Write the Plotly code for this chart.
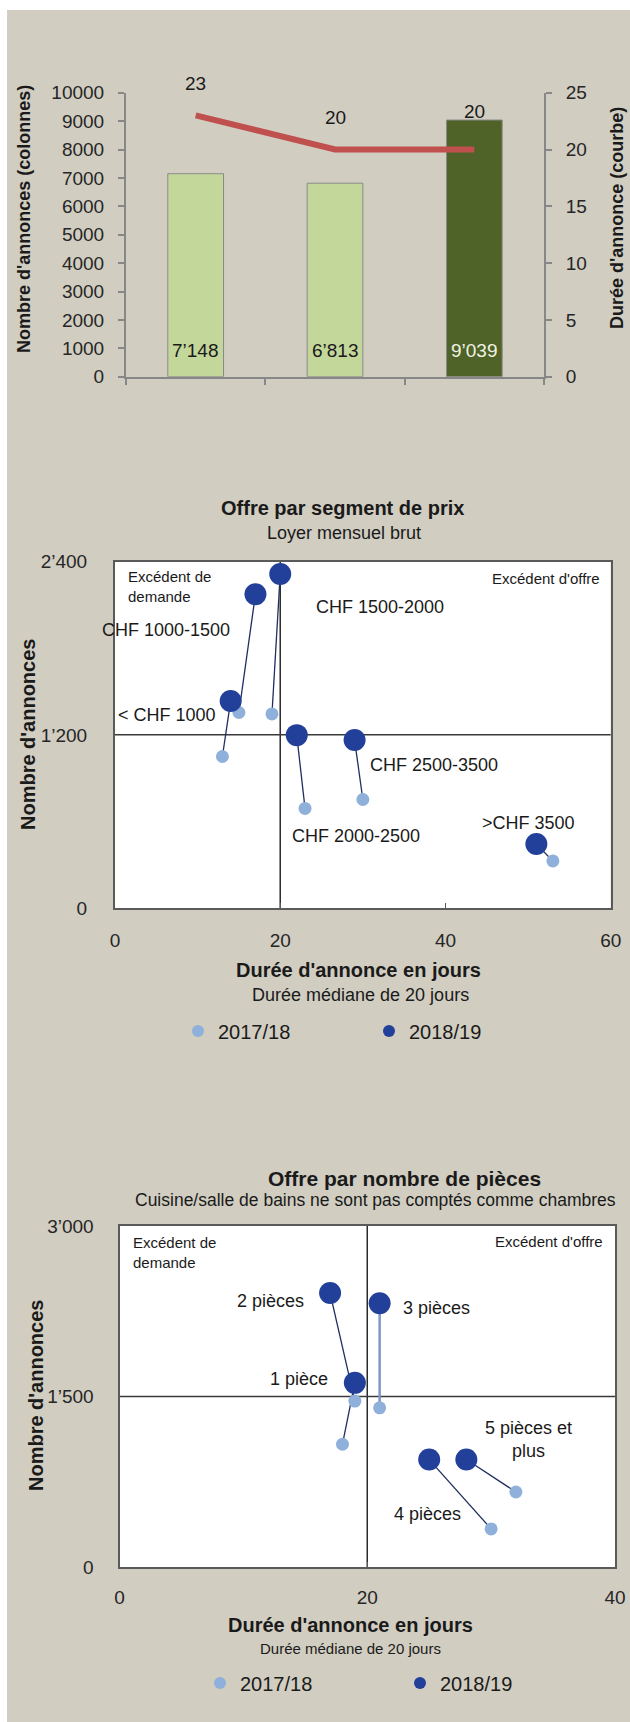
import plotly.graph_objects as go

W, H = 630, 1722

# ---------------- DATA ----------------
# Chart 1: number of listings (bars) and listing duration (line)
periodes = ["2016/17", "2017/18", "2018/19"]
nb_annonces = [7148, 6813, 9039]
duree_annonce = [23, 20, 20]

# Chart 2: offer by price segment
segments = ["< CHF 1000", "CHF 1000-1500", "CHF 1500-2000",
            "CHF 2000-2500", "CHF 2500-3500", ">CHF 3500"]
seg_duree_1718 = [13, 15, 19, 23, 30, 53]
seg_nb_1718 = [1050, 1355, 1345, 690, 752, 326]
seg_duree_1819 = [14, 17, 20, 22, 29, 51]
seg_nb_1819 = [1435, 2175, 2315, 1198, 1164, 443]
seg_yticks = [0, 1200, 2400]
seg_xticks = [0, 20, 40, 60]
seg_median_nb = 1200

# Chart 3: offer by number of rooms
pieces = ["1 pièce", "2 pièces", "3 pièces", "4 pièces", "5 pièces et<br>plus"]
pc_duree_1718 = [18, 19, 21, 30, 32]
pc_nb_1718 = [1080, 1460, 1400, 335, 660]
pc_duree_1819 = [19, 17, 21, 25, 28]
pc_nb_1819 = [1620, 2410, 2320, 945, 945]
pc_yticks = [0, 1500, 3000]
pc_xticks = [0, 20, 40]
pc_median_nb = 1500

median_duree = 20
annees = ["2017/18", "2018/19"]

# ---------------- STYLE ----------------
FONT = "Liberation Sans, Arial, sans-serif"
TXT = "#1a1a1a"
BEIGE = "#d1cdc1"
LIGHT = "#8fb0da"
DARK = "#22409a"
CONN = "#1f2f5f"
AXG = "#878787"
BORD = "#5a5a5a"


def px(x):
    return x / W


def py(y):
    return 1 - y / H


def fmt(v):
    return f"{v:,}".replace(",", "’")


fig = go.Figure()

# ---- chart 1 ----
bar_colors = ["#c4d79b", "#c4d79b", "#4f6228"]
fig.add_trace(go.Bar(x=periodes, y=nb_annonces, xaxis="x", yaxis="y",
                     marker=dict(color=bar_colors, line=dict(color="#8a8a8a", width=1)),
                     width=0.4, showlegend=False, hoverinfo="skip"))
fig.add_trace(go.Scatter(x=periodes, y=duree_annonce, xaxis="x", yaxis="y2",
                         mode="lines", line=dict(color="#c0504d", width=6),
                         showlegend=False, hoverinfo="skip"))

annotations = []
bar_txt_col = [TXT, TXT, "#eef3e2"]
for i, (p, v) in enumerate(zip(periodes, nb_annonces)):
    annotations.append(dict(x=p, y=0, xref="x", yref="y", text=fmt(v), showarrow=False,
                            yanchor="middle", yshift=26,
                            font=dict(size=19, color=bar_txt_col[i], family=FONT)))
line_lbl_shift = [32, 32, 38]
for i, (p, v) in enumerate(zip(periodes, duree_annonce)):
    annotations.append(dict(x=p, y=v, xref="x", yref="y2", text=str(v), showarrow=False,
                            yanchor="middle", yshift=line_lbl_shift[i],
                            font=dict(size=19, color=TXT, family=FONT)))

# ---- scatter charts ----
def add_scatter(xs0, ys0, xs1, ys1, xa, ya, legend, conn_colors, conn_widths):
    for i in range(len(xs0)):
        fig.add_trace(go.Scatter(x=[xs0[i], xs1[i]], y=[ys0[i], ys1[i]], xaxis=xa, yaxis=ya,
                                 mode="lines", line=dict(color=conn_colors[i], width=conn_widths[i]),
                                 showlegend=False, hoverinfo="skip"))
    fig.add_trace(go.Scatter(x=xs0, y=ys0, xaxis=xa, yaxis=ya, mode="markers", name=annees[0],
                             marker=dict(color=LIGHT, size=13), legend=legend, hoverinfo="skip"))
    fig.add_trace(go.Scatter(x=xs1, y=ys1, xaxis=xa, yaxis=ya, mode="markers", name=annees[1],
                             marker=dict(color=DARK, size=22), legend=legend, hoverinfo="skip"))


add_scatter(seg_duree_1718, seg_nb_1718, seg_duree_1819, seg_nb_1819, "x2", "y3", "legend",
            [CONN] * 6, [1.3] * 6)
add_scatter(pc_duree_1718, pc_nb_1718, pc_duree_1819, pc_nb_1819, "x3", "y4", "legend2",
            [CONN, CONN, "#7d98c4", CONN, CONN], [1.3, 1.3, 2.5, 1.3, 1.3])

# point labels: screen offsets (px, down positive) from the 2018/19 point
seg_lbl_off = [(-64, 14), (-89, 36), (100, 33), (59, 101), (79, 25), (-8, -21)]
for name, x, y, (dx, dy) in zip(segments, seg_duree_1819, seg_nb_1819, seg_lbl_off):
    annotations.append(dict(x=x, y=y, xref="x2", yref="y3", text=name, showarrow=False,
                            xshift=dx, yshift=-dy, font=dict(size=18, color=TXT, family=FONT)))
pc_lbl_off = [(-56, -4), (-60, 8), (57, 5), (-2, 54), (62, -20)]
for name, x, y, (dx, dy) in zip(pieces, pc_duree_1819, pc_nb_1819, pc_lbl_off):
    annotations.append(dict(x=x, y=y, xref="x3", yref="y4", text=name, showarrow=False,
                            xshift=dx, yshift=-dy, font=dict(size=18, color=TXT, family=FONT)))


def ann(x, y, text, size, bold=False, xanchor="center", yanchor="middle", angle=0, align="center"):
    t = f"<b>{text}</b>" if bold else text
    annotations.append(dict(x=px(x), y=py(y), xref="paper", yref="paper", text=t,
                            showarrow=False, xanchor=xanchor, yanchor=yanchor,
                            textangle=angle, align=align,
                            font=dict(size=size, color=TXT, family=FONT)))


# chart 1 titles
ann(24, 219, "Nombre d'annonces (colonnes)", 18, bold=True, angle=-90)
ann(617, 218, "Durée d'annonce (courbe)", 18, bold=True, angle=-90)
# chart 2 texts
ann(343, 508, "Offre par segment de prix", 20, bold=True)
ann(344, 533, "Loyer mensuel brut", 18)
ann(28, 735, "Nombre d'annonces", 20, bold=True, angle=-90)
ann(358, 970, "Durée d'annonce en jours", 20, bold=True)
ann(360, 995, "Durée médiane de 20 jours", 18)
ann(126, 566, "Excédent de<br>demande", 15, xanchor="left", yanchor="top", align="left")
ann(602, 578, "Excédent d'offre", 15, xanchor="right")
# chart 3 texts
ann(404, 1178, "Offre par nombre de pièces", 21, bold=True)
ann(375, 1200, "Cuisine/salle de bains ne sont pas comptés comme chambres", 17.5)
ann(36, 1396, "Nombre d'annonces", 20, bold=True, angle=-90)
ann(350, 1625, "Durée d'annonce en jours", 20, bold=True)
ann(350, 1648, "Durée médiane de 20 jours", 15)
ann(131, 1232, "Excédent de<br>demande", 15, xanchor="left", yanchor="top", align="left")
ann(605, 1241, "Excédent d'offre", 15, xanchor="right")

# shapes: beige panel (white strip left/top), white plot areas, median lines
shapes = [dict(type="rect", xref="paper", yref="paper", x0=px(7), x1=1, y0=0, y1=py(10),
               fillcolor=BEIGE, line=dict(width=0), layer="below")]
for xa, ya, hy in (("x2", "y3", seg_median_nb), ("x3", "y4", pc_median_nb)):
    shapes.append(dict(type="rect", xref=f"{xa} domain", yref=f"{ya} domain", x0=0, x1=1, y0=0, y1=1,
                       fillcolor="white", line=dict(width=0), layer="below"))
    shapes.append(dict(type="line", xref=xa, yref=f"{ya} domain", x0=median_duree, x1=median_duree,
                       y0=0, y1=1, line=dict(color="#2a2a2a", width=1.5), layer="below"))
    shapes.append(dict(type="line", xref=f"{xa} domain", yref=ya, x0=0, x1=1, y0=hy, y1=hy,
                       line=dict(color="#3a3a3a", width=1.5), layer="below"))

tickfont = dict(size=19, color="#262626", family=FONT)

fig.update_layout(
    width=W, height=H, margin=dict(l=0, r=0, t=0, b=0, pad=0, autoexpand=False),
    paper_bgcolor="white", plot_bgcolor="rgba(0,0,0,0)",
    font=dict(family=FONT, color=TXT),
    shapes=shapes, annotations=annotations, bargap=0.6,
    xaxis=dict(domain=[px(126), px(544)], anchor="y", type="category", range=[-0.5, 2.5],
               showline=True, linecolor=AXG, linewidth=2, ticks="outside", tickson="boundaries",
               ticklen=6, tickwidth=2, tickcolor=AXG, showticklabels=False, showgrid=False,
               zeroline=False, fixedrange=True, automargin=False),
    yaxis=dict(domain=[py(376.7), py(92.7)], anchor="x", range=[0, 10000], dtick=1000,
               tickformat="d", showline=True, linecolor=AXG, linewidth=2, ticks="outside",
               ticklen=6, tickwidth=2, tickcolor=AXG, showgrid=False, zeroline=False,
               tickfont=tickfont, ticklabelstandoff=10, automargin=False),
    yaxis2=dict(overlaying="y", anchor="x", side="right", range=[0, 25], dtick=5,
                showline=True, linecolor=AXG, linewidth=2, ticks="outside", ticklen=6,
                tickwidth=2, tickcolor=AXG, showgrid=False, zeroline=False,
                tickfont=tickfont, ticklabelstandoff=10, automargin=False),
    xaxis2=dict(domain=[px(115), px(610.7)], anchor="y3", range=[0, 60], tickvals=seg_xticks,
                showline=True, mirror=True, linecolor=BORD, linewidth=2, ticks="inside",
                ticklen=5, tickcolor=BORD, showgrid=False, zeroline=False, tickfont=tickfont,
                ticklabelstandoff=14, automargin=False),
    yaxis3=dict(domain=[py(908), py(561.7)], anchor="x2", range=[0, 2400], tickvals=seg_yticks,
                ticktext=[fmt(v) for v in seg_yticks], showline=True, mirror=True,
                linecolor=BORD, linewidth=2, ticks="", showgrid=False, zeroline=False,
                tickfont=tickfont, ticklabelstandoff=22, automargin=False),
    xaxis3=dict(domain=[px(119.5), px(615)], anchor="y4", range=[0, 40], tickvals=pc_xticks,
                showline=True, mirror=True, linecolor=BORD, linewidth=2, ticks="inside",
                ticklen=5, tickcolor=BORD, showgrid=False, zeroline=False, tickfont=tickfont,
                ticklabelstandoff=12, automargin=False),
    yaxis4=dict(domain=[py(1567), py(1226)], anchor="x3", range=[0, 3000], tickvals=pc_yticks,
                ticktext=[fmt(v) for v in pc_yticks], showline=True, mirror=True,
                linecolor=BORD, linewidth=2, ticks="", showgrid=False, zeroline=False,
                tickfont=tickfont, ticklabelstandoff=20, automargin=False),
    legend=dict(orientation="h", x=px(178), xanchor="left", y=py(1031), yanchor="middle",
                font=dict(size=20, color=TXT, family=FONT), bgcolor="rgba(0,0,0,0)",
                itemsizing="constant", entrywidth=146, entrywidthmode="pixels", traceorder="normal"),
    legend2=dict(orientation="h", x=px(200), xanchor="left", y=py(1683), yanchor="middle",
                 font=dict(size=20, color=TXT, family=FONT), bgcolor="rgba(0,0,0,0)",
                 itemsizing="constant", entrywidth=155, entrywidthmode="pixels", traceorder="normal"),
)

page_js = (
    "var s=document.createElement('style');"
    "s.textContent='html,body{margin:0!important;padding:0!important;overflow:hidden;"
    "background:white;}';"
    "document.head.appendChild(s);"
)
fig.write_html("out.html", config={"displayModeBar": False, "staticPlot": True},
               post_script=page_js)
